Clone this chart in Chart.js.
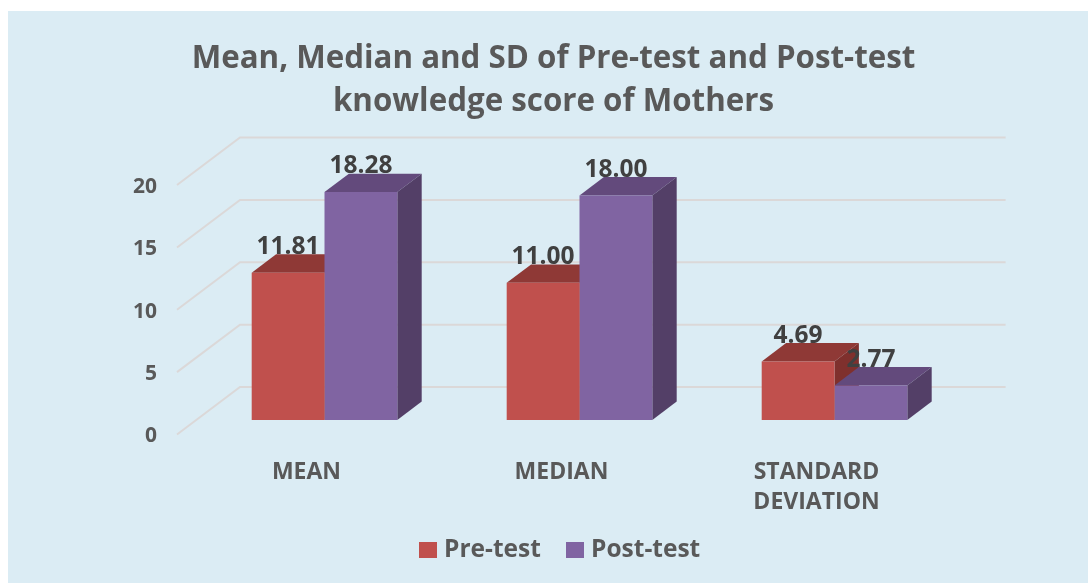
<!DOCTYPE html>
<html>
<head>
<meta charset="utf-8">
<style>
  html, body { margin: 0; padding: 0; background: #fff; overflow: hidden; }
  #panel { position: absolute; left: 8px; top: 11px; width: 1080px; height: 572px; background: #dbecf4; }
</style>
</head>
<body>
<div id="panel"><canvas id="chart" width="1080" height="572"></canvas></div>
<script src="https://cdn.jsdelivr.net/npm/chart.js@4"></script>
<script>
const categories = ['MEAN', 'MEDIAN', ['STANDARD', 'DEVIATION']];
const preTest = [11.81, 11.0, 4.69];
const postTest = [18.28, 18.0, 2.77];
const yTicks = [0, 5, 10, 15, 20];
const titleLines = ['Mean, Median and SD of Pre-test and Post-test', 'knowledge score of Mothers'];

const fontFamily = '"Open Sans", sans-serif';

// fake 3D look, all offsets are relative to the scale pixels
const barLift = -14.5;
const barDepth = { x: 24.4, y: -18.4 };
const floorStart = -20;
const floorDepth = { x: 63, y: -47.5 };
const wallEnd = 43.6;

const faceColors = [
  { top: '#8f3936', side: '#7f302d' },
  { top: '#634a7c', side: '#533f67' },
];

const wallGrid = {
  id: 'wallGrid',
  beforeDatasetsDraw(chart) {
    const { ctx, chartArea, scales } = chart;
    ctx.save();
    ctx.strokeStyle = '#dbd8d8';
    ctx.lineWidth = 2;
    scales.y.ticks.forEach((tick) => {
      const y = scales.y.getPixelForValue(tick.value);
      const x0 = chartArea.left + floorStart;
      ctx.beginPath();
      ctx.moveTo(x0, y);
      ctx.lineTo(x0 + floorDepth.x, y + floorDepth.y);
      ctx.lineTo(chartArea.right + wallEnd, y + floorDepth.y);
      ctx.stroke();
    });
    ctx.restore();
  },
};

const bars3d = {
  id: 'bars3d',
  // tops and sides go first, pre-test under post-test, the fronts come after
  beforeDatasetsDraw(chart) {
    const ctx = chart.ctx;
    ctx.save();
    ctx.translate(0, barLift);
    chart.data.datasets.forEach((dataset, i) => {
      chart.getDatasetMeta(i).data.forEach((bar) => {
        const left = bar.x - bar.width / 2;
        const right = bar.x + bar.width / 2;
        ctx.fillStyle = faceColors[i].top;
        ctx.beginPath();
        ctx.moveTo(left, bar.y);
        ctx.lineTo(left + barDepth.x, bar.y + barDepth.y);
        ctx.lineTo(right + barDepth.x, bar.y + barDepth.y);
        ctx.lineTo(right, bar.y);
        ctx.closePath();
        ctx.fill();
        ctx.fillStyle = faceColors[i].side;
        ctx.beginPath();
        ctx.moveTo(right, bar.y);
        ctx.lineTo(right + barDepth.x, bar.y + barDepth.y);
        ctx.lineTo(right + barDepth.x, bar.base + barDepth.y);
        ctx.lineTo(right, bar.base);
        ctx.closePath();
        ctx.fill();
      });
    });
    ctx.restore();
  },
  beforeDatasetDraw(chart) {
    chart.ctx.save();
    chart.ctx.translate(0, barLift);
  },
  afterDatasetDraw(chart) {
    chart.ctx.restore();
  },
  afterDatasetsDraw(chart) {
    const ctx = chart.ctx;
    ctx.save();
    ctx.font = 'bold 24.5px ' + fontFamily;
    ctx.fillStyle = '#404040';
    ctx.textAlign = 'center';
    ctx.textBaseline = 'middle';
    chart.data.datasets.forEach((dataset, i) => {
      chart.getDatasetMeta(i).data.forEach((bar, j) => {
        ctx.fillText(dataset.data[j].toFixed(2), bar.x, bar.y + barLift - 25.7);
      });
    });
    ctx.restore();
  },
};

// legend sits a bit right of the title in the original, and higher than its padding allows
const legendShift = {
  id: 'legendShift',
  afterLayout(chart) {
    chart.legend.left += 17;
    chart.legend.top -= 8;
  },
};

// swatch as an image so it can be wider than the legend's box slot,
// that brings the text as close to the swatch as in the original
function swatch(color) {
  const c = document.createElement('canvas');
  c.width = 18;
  c.height = 16;
  const g = c.getContext('2d');
  g.fillStyle = color;
  g.fillRect(0, 0, 18, 16);
  return c;
}

new Chart(document.getElementById('chart'), {
  type: 'bar',
  data: {
    labels: categories,
    datasets: [
      { label: 'Pre-test', data: preTest, backgroundColor: '#c0504d' },
      { label: 'Post-test', data: postTest, backgroundColor: '#8064a2' },
    ],
  },
  plugins: [wallGrid, bars3d, legendShift],
  options: {
    responsive: false,
    animation: false,
    categoryPercentage: 0.571,
    barPercentage: 1,
    layout: {
      padding: { left: 115, right: 104, top: 0, bottom: 3 },
    },
    scales: {
      x: {
        grid: { display: false },
        border: { display: false },
        ticks: {
          color: '#595959',
          padding: 15,
          labelOffset: -18,
          maxRotation: 0,
          autoSkip: false,
          font: { family: fontFamily, size: 23, weight: 'bold', lineHeight: 1.3 },
        },
        afterFit(scale) {
          scale.height = 81;
        },
      },
      y: {
        min: 0,
        max: 20,
        afterBuildTicks(scale) {
          scale.ticks = yTicks.map((value) => ({ value }));
        },
        grid: { display: false },
        border: { display: false },
        ticks: {
          color: '#595959',
          padding: 32,
          labelOffset: 2,
          font: { family: fontFamily, size: 21, weight: 'bold' },
        },
        afterFit(scale) {
          scale.width = 74;
        },
      },
      // empty axis, only keeps title and legend centred where the plot sits
      rightGap: {
        position: 'right',
        grid: { display: false },
        border: { display: false },
        ticks: { display: false },
        afterFit(scale) {
          scale.width = 22;
        },
      },
    },
    plugins: {
      title: {
        display: true,
        text: titleLines,
        color: '#595959',
        padding: { top: 26.5, bottom: 61.5 },
        font: { family: fontFamily, size: 31.3, weight: 'bold', lineHeight: 1.375 },
      },
      legend: {
        position: 'bottom',
        labels: {
          usePointStyle: true,
          boxWidth: 8,
          padding: 30,
          color: '#595959',
          font: { family: fontFamily, size: 24.5, weight: 'bold' },
          generateLabels(chart) {
            return chart.data.datasets.map((dataset, i) => ({
              text: dataset.label,
              datasetIndex: i,
              fontColor: '#595959',
              pointStyle: swatch(dataset.backgroundColor),
            }));
          },
        },
      },
      tooltip: { enabled: false },
    },
  },
});
</script>
</body>
</html>
